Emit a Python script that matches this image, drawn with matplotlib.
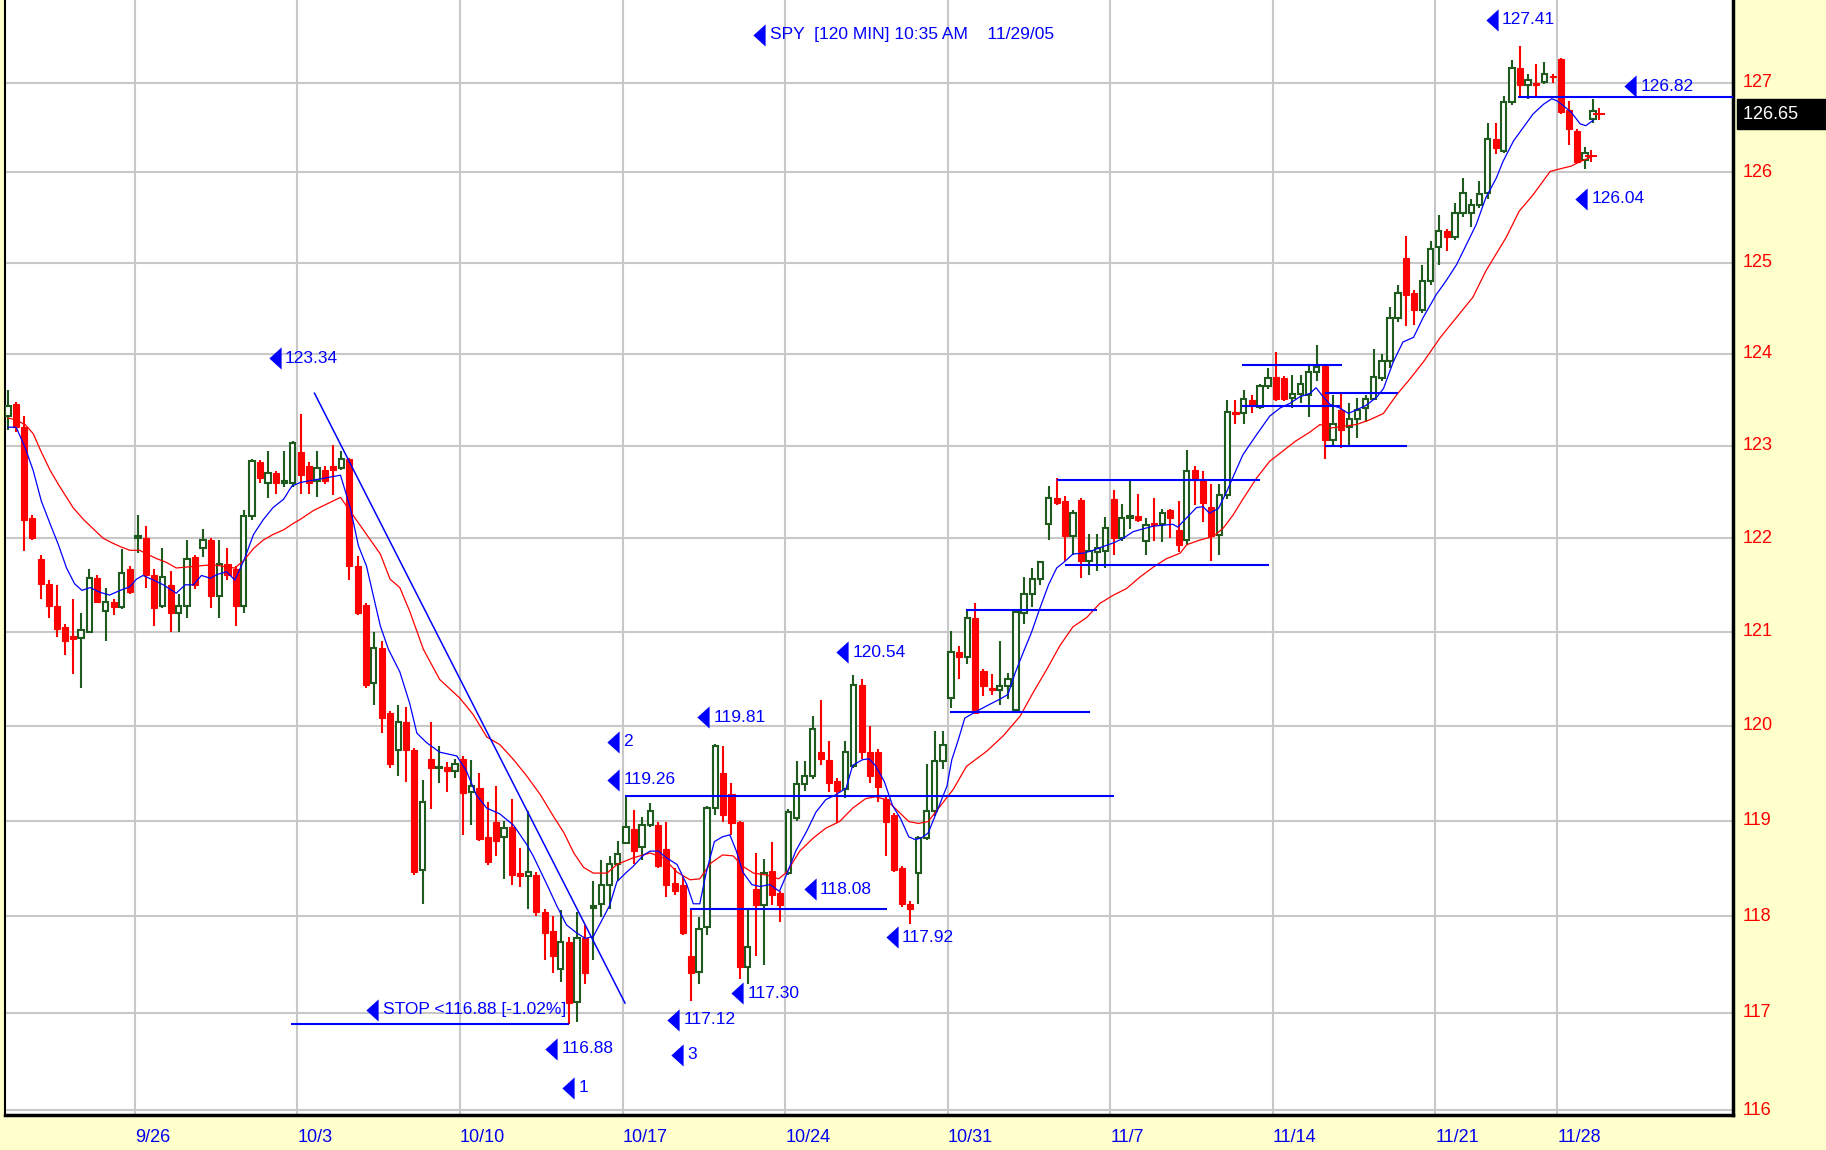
import numpy as np
import matplotlib.pyplot as plt
from matplotlib.ticker import NullLocator
from matplotlib.transforms import blended_transform_factory

plt.rcParams['font.family'] = ['Liberation Sans', 'DejaVu Sans']

# 120-minute SPY bars, 9/20/05 .. 11/29/05
opens = [123.32, 123.45, 123.20, 122.22, 121.78, 121.51, 121.27, 121.05, 120.95, 120.93,
         121.00, 121.57, 121.22, 121.32, 121.26, 121.67,
         122.00, 122.00, 121.60, 121.27, 121.50, 121.20, 121.27, 121.80, 121.90, 121.98,
         121.38, 121.72, 121.67, 121.27, 122.24, 122.82, 122.60, 122.70, 122.60, 122.60,
         122.93, 122.78, 122.62, 122.74, 122.78, 122.76, 122.85, 121.70, 121.28, 120.45,
         120.83, 120.13, 119.74, 120.04, 119.74, 118.48, 119.65, 119.55, 119.56, 119.52,
         119.65, 119.30, 119.34, 118.83, 118.99, 118.83, 118.93, 118.45, 118.42, 118.43,
         118.04, 117.85, 117.45, 117.73, 117.11, 117.77, 118.09, 118.13, 118.33, 118.55,
         118.77, 118.91, 118.72, 118.95, 118.95, 118.70, 118.35, 118.33, 117.59, 117.42,
         117.89, 119.13, 119.50, 119.28, 118.98, 117.47, 118.28, 118.12, 118.47, 118.24,
         118.45, 119.03, 119.38, 119.47, 119.72, 119.64, 119.42, 119.33, 119.57, 120.43,
         119.72, 119.72, 119.23, 119.06, 118.50, 118.13, 118.45, 118.82, 119.10, 119.63,
         120.29, 120.78, 120.73, 121.14, 120.58, 120.40, 120.38, 120.42, 120.17, 121.20,
         121.40, 121.56, 122.15, 122.43, 122.40, 122.02, 122.41, 121.75, 121.85, 121.86,
         122.42, 122.00, 122.22, 122.24, 121.97, 122.16, 122.15, 122.30, 122.09, 121.98,
         122.74, 122.63, 122.34, 122.04, 122.47, 123.37, 123.35, 123.50, 123.42, 123.65,
         123.75, 123.74, 123.52, 123.56, 123.55, 123.80, 123.87, 123.06, 123.39, 123.20,
         123.29, 123.41, 123.51, 123.74, 123.92, 124.39, 125.05, 124.67, 124.48, 124.80,
         125.17, 125.35, 125.28, 125.55, 125.55, 125.64, 125.77, 126.37, 126.24, 126.79,
         127.16, 126.98, 127.00, 127.01, 127.08,
         127.27, 126.69, 126.46, 126.14, 126.60]
highs = [123.61, 123.47, 123.32, 122.25, 121.82, 121.55, 121.50, 121.08, 121.35, 121.20,
         121.67, 121.60, 121.47, 121.35, 121.88, 121.70,
         122.25, 122.13, 121.67, 121.90, 121.65, 121.40, 121.98, 121.82, 122.10, 122.00,
         121.98, 121.90, 121.70, 122.30, 122.85, 122.84, 122.94, 122.72, 122.94, 123.05,
         123.34, 122.82, 122.94, 122.78, 123.01, 122.94, 122.87, 121.81, 121.30, 121.00,
         120.90, 120.15, 120.22, 120.20, 119.76, 119.43, 120.04, 119.78, 119.62, 119.65,
         119.68, 119.64, 119.50, 119.19, 119.36, 119.00, 119.23, 118.71, 119.10, 118.46,
         118.08, 118.00, 118.06, 117.78, 118.04, 117.91, 118.37, 118.59, 118.63, 118.79,
         119.26, 119.11, 119.04, 119.18, 118.98, 118.98, 118.50, 118.41, 118.08, 117.99,
         119.15, 119.81, 119.78, 119.40, 119.00, 118.08, 118.66, 118.60, 118.78, 118.26,
         119.12, 119.63, 119.63, 120.10, 120.27, 119.84, 119.45, 119.84, 120.54, 120.50,
         120.00, 119.75, 119.25, 119.08, 118.52, 118.16, 118.84, 119.60, 119.94, 119.94,
         121.01, 120.85, 121.23, 121.30, 120.60, 120.55, 120.90, 120.56, 121.23, 121.58,
         121.68, 121.76, 122.56, 122.65, 122.45, 122.30, 122.43, 122.05, 122.05, 122.23,
         122.52, 122.37, 122.63, 122.48, 122.22, 122.43, 122.32, 122.32, 122.40, 122.95,
         122.78, 122.72, 122.59, 122.59, 123.50, 123.50, 123.60, 123.55, 123.67, 123.84,
         124.02, 123.76, 123.77, 123.77, 123.87, 124.10, 123.88, 123.55, 123.57, 123.46,
         123.52, 123.55, 124.05, 124.00, 124.51, 124.76, 125.29, 124.70, 124.98, 125.24,
         125.53, 125.37, 125.66, 125.94, 125.71, 125.90, 126.55, 126.55, 126.85, 127.25,
         127.41, 127.10, 127.21, 127.23, 127.10,
         127.28, 126.80, 126.48, 126.28, 126.82]
lows = [123.17, 123.15, 121.86, 121.98, 121.35, 121.15, 120.94, 120.75, 120.55, 120.40,
        120.98, 121.30, 120.90, 121.18, 121.24, 121.40,
        121.84, 121.47, 121.06, 121.25, 121.00, 121.00, 121.15, 121.45, 121.80, 121.25,
        121.15, 121.55, 121.06, 121.20, 122.20, 122.60, 122.43, 122.48, 122.55, 122.55,
        122.48, 122.48, 122.44, 122.58, 122.47, 122.74, 121.55, 121.18, 120.40, 120.22,
        119.92, 119.55, 119.47, 119.41, 118.43, 118.13, 119.12, 119.40, 119.30, 119.45,
        118.85, 118.95, 118.79, 118.53, 118.63, 118.39, 118.33, 118.31, 118.08, 118.00,
        117.55, 117.41, 117.32, 116.88, 116.90, 117.30, 117.55, 117.99, 118.08, 118.37,
        118.75, 118.55, 118.59, 118.93, 118.50, 118.20, 118.22, 117.80, 117.12, 117.30,
        117.80, 119.06, 118.99, 118.85, 117.35, 117.30, 117.59, 117.49, 118.12, 117.94,
        118.43, 119.00, 119.31, 119.44, 119.58, 119.30, 118.97, 119.24, 119.55, 119.65,
        119.40, 119.20, 118.63, 118.46, 118.10, 117.92, 118.13, 118.80, 119.05, 119.54,
        120.19, 120.49, 120.65, 120.12, 120.31, 120.33, 120.22, 120.28, 120.14, 121.08,
        121.26, 121.50, 121.98, 122.36, 121.75, 121.82, 121.57, 121.60, 121.65, 121.68,
        121.82, 121.97, 122.10, 122.18, 121.82, 121.97, 121.96, 122.00, 121.85, 121.93,
        122.36, 122.18, 121.75, 121.82, 122.42, 123.23, 123.24, 123.35, 123.40, 123.62,
        123.49, 123.49, 123.41, 123.46, 123.31, 123.70, 122.85, 123.00, 122.97, 123.00,
        123.08, 123.26, 123.50, 123.70, 123.85, 124.35, 124.31, 124.32, 124.45, 124.76,
        124.98, 125.13, 125.25, 125.50, 125.40, 125.61, 125.71, 126.20, 126.22, 126.75,
        126.84, 126.82, 126.84, 126.99, 127.00,
        126.65, 126.31, 126.10, 126.04, 126.55]
closes = [123.43, 123.20, 122.20, 122.00, 121.51, 121.27, 121.03, 120.90, 120.92, 121.02,
          121.57, 121.32, 121.32, 121.26, 121.63, 121.42,
          122.02, 121.60, 121.25, 121.58, 121.20, 121.27, 121.78, 121.50, 121.98, 121.38,
          121.72, 121.60, 121.27, 122.24, 122.83, 122.65, 122.70, 122.60, 122.62, 123.03,
          122.68, 122.60, 122.76, 122.62, 122.74, 122.85, 121.70, 121.20, 120.43, 120.83,
          120.08, 119.60, 120.04, 119.74, 118.46, 119.19, 119.55, 119.56, 119.52, 119.60,
          119.29, 119.36, 118.81, 118.57, 118.79, 118.92, 118.43, 118.42, 118.46, 118.04,
          117.83, 117.59, 117.73, 117.10, 117.77, 117.41, 118.11, 118.33, 118.55, 118.65,
          118.93, 118.68, 118.95, 119.10, 118.52, 118.33, 118.26, 117.83, 117.41, 117.87,
          119.13, 119.79, 119.06, 118.97, 117.47, 117.68, 118.12, 118.45, 118.22, 118.12,
          119.09, 119.38, 119.47, 119.96, 119.65, 119.40, 119.31, 119.72, 120.43, 119.72,
          119.47, 119.35, 118.99, 118.48, 118.13, 118.08, 118.82, 119.10, 119.63, 119.80,
          120.78, 120.73, 121.14, 120.13, 120.42, 120.38, 120.42, 120.49, 121.21, 121.40,
          121.56, 121.74, 122.43, 122.38, 122.02, 122.27, 121.75, 121.86, 121.90, 122.11,
          122.00, 122.22, 122.24, 122.20, 122.14, 122.14, 122.27, 122.22, 121.93, 122.73,
          122.63, 122.38, 122.02, 122.47, 123.37, 123.34, 123.51, 123.43, 123.65, 123.74,
          123.51, 123.51, 123.56, 123.67, 123.80, 123.86, 123.06, 123.24, 123.17, 123.29,
          123.39, 123.51, 123.75, 123.92, 124.39, 124.67, 124.65, 124.48, 124.80, 125.15,
          125.35, 125.28, 125.55, 125.77, 125.64, 125.76, 126.37, 126.27, 126.79, 127.16,
          126.98, 127.03, 126.98, 127.10, 127.06,
          126.67, 126.48, 126.12, 126.22, 126.68]

# first bar of each week and its date label
week_bars = [16, 36, 56, 76, 96, 116, 136, 156, 176, 191]
week_labels = ['9/26', '10/3', '10/10', '10/17', '10/24', '10/31', '11/7', '11/14', '11/21', '11/28']
price_levels = list(range(116, 129))

# fast (blue) and slow (red) moving averages
blue_x = [0, 1, 2.1, 3.1, 4.1, 5.2, 6.2, 7.2, 8.2, 9.1, 10.1, 11.3, 12.5, 13.8, 15, 15.8, 16.6,
          17.9, 19.1, 20.7, 21.8, 22.8, 23.8, 24.9, 25.7, 26.9, 27.9, 29.1, 30.2, 31.4, 32.6,
          33.9, 34.9, 35.9, 37.1, 38.4, 40.9, 42.1, 43.1, 44.1, 45.8, 46.8, 48.2, 49.4, 50.3,
          51.5, 53.1, 55.2, 56.4, 57.6, 58.9, 60.5, 62.2, 63.8, 64.6, 66.3, 67.5, 68.7, 69.9,
          71, 72, 73, 74, 74.9, 76.1, 76.9, 78.2, 79, 80, 81, 82.3, 83.5, 84.3, 85.1, 85.9,
          86.9, 87.9, 88.8, 89.6, 90.4, 91.5, 92.5, 93.7, 94.9, 95.9, 96.9, 98.2, 99.4, 100.6,
          101.8, 103.1, 103.9, 105.1, 105.9, 106.7, 107.8, 108.8, 109.8, 110.8, 111.6, 112.4,
          113.2, 115.5, 116.1, 116.9, 117.7, 118.9, 120.4, 122, 123, 123.9, 124.9, 125.9,
          126.9, 128, 129, 130, 131, 132.3, 133.5, 134.7, 136, 137.2, 138.4, 139.6, 140.9,
          142.1, 143.3, 143.9, 145, 146.2, 147, 147.8, 148.9, 149.9, 150.9, 151.9, 153.6,
          155.2, 156.5, 157.7, 158.9, 160.2, 160.9, 161.8, 162.6, 163.8, 164.9, 165.9, 167.1,
          168.4, 169.2, 170.4, 171.6, 172.9, 174.1, 175.7, 176.9, 178.2, 179.4, 180.6, 181.8,
          183.1, 183.9, 185.2, 186.4, 187.6, 188.9, 189.9, 190.5, 191.1, 192.3, 193.4, 194.1, 195]
blue_y = [123.2, 123.2, 122.98, 122.73, 122.4, 122.15, 121.93, 121.68, 121.51, 121.44, 121.47,
          121.42, 121.39, 121.44, 121.48, 121.56, 121.6, 121.55, 121.5, 121.41, 121.5, 121.5,
          121.6, 121.57, 121.61, 121.64, 121.55, 121.78, 122.04, 122.2, 122.33, 122.42, 122.56,
          122.6, 122.62, 122.64, 122.68, 122.33, 121.92, 121.7, 121.06, 120.81, 120.57, 120.24,
          119.92, 119.82, 119.72, 119.68, 119.52, 119.27, 119.13, 119.07, 118.95, 118.75,
          118.63, 118.33, 118.11, 117.91, 117.83, 117.77, 117.79, 117.95, 118.11, 118.36,
          118.46, 118.52, 118.64, 118.68, 118.68, 118.61, 118.54, 118.33, 118.13, 118.13,
          118.46, 118.78, 118.83, 118.85, 118.68, 118.46, 118.33, 118.31, 118.33, 118.26,
          118.46, 118.68, 118.88, 119.09, 119.22, 119.27, 119.34, 119.58, 119.64, 119.65,
          119.58, 119.41, 119.16, 119.02, 118.83, 118.8, 118.82, 118.87, 119.36, 119.64,
          119.85, 120.08, 120.14, 120.21, 120.28, 120.33, 120.56, 120.78, 120.99, 121.24,
          121.5, 121.68, 121.75, 121.83, 121.84, 121.87, 121.91, 121.95, 122.0, 122.07, 122.1,
          122.13, 122.14, 122.15, 122.12, 122.22, 122.33, 122.34, 122.27, 122.32, 122.5,
          122.7, 122.9, 123.12, 123.32, 123.41, 123.46, 123.53, 123.57, 123.63, 123.53,
          123.45, 123.41, 123.35, 123.39, 123.44, 123.53, 123.62, 123.91, 124.13, 124.18,
          124.4, 124.65, 124.8, 124.98, 125.2, 125.42, 125.72, 125.94, 126.12, 126.35, 126.5,
          126.65, 126.76, 126.82, 126.8, 126.76, 126.67, 126.54, 126.52, 126.58]
red_x = [0, 0.9, 2.1, 3.1, 4.1, 5.2, 6.2, 7.2, 8, 9.3, 10.5, 11.7, 12.8, 13.8, 15, 16.2, 17.1,
         18.3, 19.5, 20.7, 22, 23.2, 24.4, 25.7, 26.9, 27.9, 29, 30.2, 31.4, 32.6, 33.9, 35.1,
         35.9, 37.6, 40.9, 42.1, 44.1, 45.8, 47, 48.2, 49.4, 51.1, 53.1, 55.6, 57.2, 58.9,
         60.5, 62.2, 63.8, 65.5, 67.2, 68.4, 69.6, 70.8, 72, 73.7, 74.9, 76.9, 79, 80.6, 82.3,
         83.9, 85.1, 86.4, 87.9, 89.2, 90.4, 91.7, 93.3, 94.8, 95.8, 97.4, 99.1, 100.6, 102.3,
         103.9, 105.5, 106.7, 108, 109.6, 110.8, 112, 113.2, 116.3, 117.9, 120.4, 122.4,
         124.5, 126.1, 127.8, 129.4, 131, 132.7, 134.3, 136, 137.6, 139.2, 140.9, 142.5,
         144.2, 145, 146.6, 148.3, 149.5, 150.7, 151.9, 153.6, 155.2, 156.8, 158.4, 160.2,
         161.4, 162.6, 164.3, 165.9, 167.5, 169.2, 170.8, 172.5, 174.1, 176.2, 178.2, 180.2,
         181.8, 184.3, 185.9, 187.6, 189.7, 190.5, 192.3, 193.4, 195]
red_y = [123.3, 123.28, 123.23, 123.13, 122.93, 122.73, 122.58, 122.44, 122.33, 122.2, 122.1,
         122.0, 121.95, 121.91, 121.87, 121.87, 121.83, 121.78, 121.74, 121.68, 121.69, 121.7,
         121.71, 121.71, 121.69, 121.68, 121.76, 121.89, 121.98, 122.04, 122.09, 122.16, 122.2,
         122.3, 122.44, 122.29, 122.04, 121.83, 121.56, 121.47, 121.22, 120.81, 120.49, 120.29,
         120.12, 119.88, 119.8, 119.64, 119.47, 119.27, 119.03, 118.87, 118.66, 118.51, 118.45,
         118.45, 118.54, 118.61, 118.66, 118.61, 118.46, 118.38, 118.39, 118.55, 118.64,
         118.63, 118.52, 118.45, 118.43, 118.39, 118.46, 118.68, 118.82, 118.92, 118.99,
         119.13, 119.23, 119.25, 119.22, 119.09, 118.99, 118.97, 118.99, 119.33, 119.57,
         119.73, 119.89, 120.1, 120.35, 120.6, 120.85, 121.05, 121.15, 121.3, 121.39, 121.46,
         121.58, 121.69, 121.78, 121.84, 121.93, 121.98, 122.02, 122.11, 122.25, 122.42,
         122.65, 122.83, 122.94, 123.05, 123.15, 123.23, 123.19, 123.21, 123.23, 123.28,
         123.35, 123.55, 123.73, 123.91, 124.18, 124.4, 124.62, 124.91, 125.28, 125.57,
         125.75, 126.01, 126.03, 126.07, 126.12, 126.18]

# drawn support / resistance levels: start bar, end bar, price
level_start = [34.8, 75.9, 83.9, 115.9, 117.9, 129, 130, 151.8, 151.8, 162, 162, 185.7]
level_end = [69, 136, 108.1, 133.1, 134, 154, 155.1, 164.1, 163.8, 171, 172.1, 215]
level_price = [116.88, 119.26, 118.08, 120.14, 121.23, 122.63, 121.71, 123.88, 123.43,
               123.57, 123.00, 126.84]
trend_x = [37.7, 75.9]
trend_y = [123.57, 117.10]

# text notes with a left-pointing arrow
note_text = ['123.34', 'SPY  [120 MIN] 10:35 AM    11/29/05', '127.41', '126.82', '126.04',
             '120.54', '119.81', '2', '119.26', '118.08', '117.92', '117.30', '117.12', '3',
             'STOP <116.88 [-1.02%]', '116.88', '1']
note_x = [32.8, 92.4, 182.5, 199.5, 193.5, 102.6, 85.5, 74.4, 74.4, 98.6, 108.7, 89.7, 81.8,
          82.3, 44.8, 66.8, 68.9]
note_y = [123.95, 127.54, 127.71, 126.96, 125.71, 120.78, 120.09, 119.83, 119.43, 118.28,
          117.78, 117.20, 116.93, 116.57, 117.03, 116.63, 116.23]

tick_bars = [194, 195]
tick_prices = [126.18, 126.65]
last_price = 126.65

GREEN = '#1f5a1f'
RED = '#ff0000'
BLUE = '#0000ff'

fig = plt.figure(figsize=(18.26, 11.5), dpi=100, facecolor='#ffffcc')
ax = fig.add_axes([5 / 1826, 35 / 1150, 1728 / 1826, 1115 / 1150])
ax.set_facecolor('white')
ax.set_yscale('log')

o = np.array(opens)
h = np.array(highs)
l = np.array(lows)
c = np.array(closes)
x = np.arange(len(o))
up = c >= o
lo = np.minimum(o, c)
hgt = np.maximum(np.abs(c - o), 0.012)

ax.vlines(x[up], l[up], h[up], color=GREEN, lw=1.5, zorder=2)
ax.vlines(x[~up], l[~up], h[~up], color=RED, lw=1.5, zorder=2)
ax.bar(x[up], hgt[up], bottom=lo[up], width=0.66, facecolor='white', edgecolor=GREEN,
       lw=1.5, zorder=3)
ax.bar(x[~up], hgt[~up], bottom=lo[~up], width=0.74, facecolor=RED, edgecolor=RED,
       lw=0.8, zorder=3)
ax.plot(np.array(tick_bars) + 0.75, tick_prices, ls='none', marker='+', ms=9, mew=1.4,
        color=RED, zorder=4)

ax.plot(red_x, red_y, color=RED, lw=0.9, zorder=4)
ax.plot(blue_x, blue_y, color=BLUE, lw=0.9, zorder=4)
ax.plot(trend_x, trend_y, color=BLUE, lw=1.1, zorder=4)
ax.hlines(level_price, level_start, level_end, color=BLUE, lw=1.5, zorder=5)

arrow = [(0.55, 1), (-0.55, 0), (0.55, -1)]
for t, nx, ny in zip(note_text, note_x, note_y):
    ax.plot(nx, ny, marker=arrow, ms=16, color=BLUE, mew=0, zorder=6, clip_on=False)
    ax.annotate(t, (nx, ny), xytext=(7.5, 0), textcoords='offset points', ha='left',
                va='center', color=BLUE, fontsize=12.5, zorder=6)

ax.set_xlim(-0.37, 212.2)
ax.set_ylim(115.95, 127.93)
ax.set_yticks(price_levels[:-1])
ax.yaxis.set_minor_locator(NullLocator())
ax.set_xticks(np.array(week_bars) - 0.4)
ax.tick_params(length=0, labelleft=False, labelbottom=False)
ax.grid(True, color='#c8c8c8', lw=1.5)
ax.set_axisbelow(True)

ax.spines['top'].set_visible(False)
ax.spines['left'].set_linewidth(1.5)
ax.spines['bottom'].set_linewidth(2.5)
ax.spines['right'].set_linewidth(2.5)

ty = blended_transform_factory(ax.transAxes, ax.transData)
for p in price_levels:
    ax.text(1.0 + 10 / 1728, p, str(p), transform=ty, ha='left', va='center', color=RED,
            fontsize=13, clip_on=False)
ax.text(1.0 + 10 / 1728, last_price, f'{last_price:.2f}      ', transform=ty, ha='left',
        va='center', color='white', fontsize=13,
        bbox=dict(boxstyle='square,pad=0.35', fc='black', ec='black'), clip_on=False)

tx = blended_transform_factory(ax.transData, ax.transAxes)
for b, lab in zip(week_bars, week_labels):
    ax.text(b - 0.4, -0.0206, lab, transform=tx, ha='left', va='center', color='#0000ee',
            fontsize=13, clip_on=False)

fig.savefig('out.png', dpi=100, facecolor=fig.get_facecolor())
